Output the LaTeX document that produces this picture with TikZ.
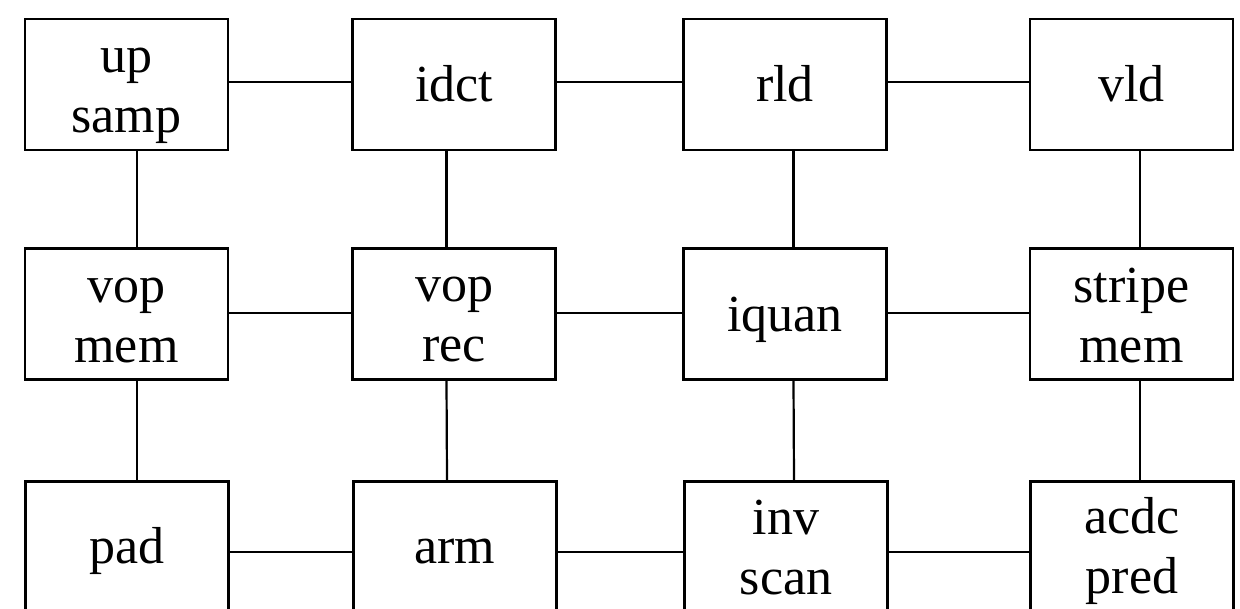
\documentclass[tikz,border=0pt]{standalone}
\usepackage{fontspec}
\setmainfont{Liberation Serif}
\newcommand{\boxtext}[2]{\raisebox{#1}{\smash{\begin{tabular}{@{}c@{}}#2\end{tabular}}}}
\begin{document}
\begin{tikzpicture}[x=1pt,y=-1pt,
  blk/.style={draw=black, line width=2.6pt, minimum width=203pt, minimum height=131pt,
    inner sep=0pt, align=center, font=\fontsize{52}{60}\selectfont},
  wire/.style={draw=black, line width=2.2pt}]
\useasboundingbox (0,0) rectangle (1240,608);
% row 1
\node[blk] (upsamp) at (126.5,84.5) {\boxtext{-25pt}{up\\samp}};
\node[blk] (idct)   at (454,84.5)   {\boxtext{-23pt}{idct}};
\node[blk] (rld)    at (785,84.5)   {\boxtext{-23pt}{rld}};
\node[blk] (vld)    at (1131.5,84.5) {\boxtext{-23pt}{vld}};
% row 2
\node[blk] (vopmem) at (126.5,314) {\boxtext{-25.5pt}{vop\\mem}};
\node[blk] (voprec) at (454,314)   {\boxtext{-24pt}{vop\\rec}};
\node[blk] (iquan)  at (785,314)   {\boxtext{-22.5pt}{iquan}};
\node[blk] (stripe) at (1131.5,314) {\boxtext{-24.5pt}{stripe\\mem}};
% row 3
\node[blk] (pad)    at (127,547) {\boxtext{-21.5pt}{pad}};
\node[blk] (arm)    at (455,547) {\boxtext{-21.5pt}{arm}};
\node[blk] (inv)    at (786,547) {\boxtext{-22.5pt}{inv\\scan}};
\node[blk] (acdc)   at (1132,547) {\boxtext{-21pt}{acdc\\pred}};
% horizontal connectors
\draw[wire] ([yshift=2.5pt]upsamp.east) -- ([yshift=2.5pt]idct.west);
\draw[wire] ([yshift=2.5pt]idct.east) -- ([yshift=2.5pt]rld.west);
\draw[wire] ([yshift=2.5pt]rld.east) -- ([yshift=2.5pt]vld.west);
\draw[wire] ([yshift=1pt]vopmem.east) -- ([yshift=1pt]voprec.west);
\draw[wire] ([yshift=1pt]voprec.east) -- ([yshift=1pt]iquan.west);
\draw[wire] ([yshift=1pt]iquan.east) -- ([yshift=1pt]stripe.west);
\draw[wire] ([yshift=-5pt]pad.east) -- ([yshift=-5pt]arm.west);
\draw[wire] ([yshift=-5pt]arm.east) -- ([yshift=-5pt]inv.west);
\draw[wire] ([yshift=-5pt]inv.east) -- ([yshift=-5pt]acdc.west);
% vertical connectors
\draw[wire] ([xshift=10.5pt]upsamp.south) -- ([xshift=10.5pt]vopmem.north);
\draw[wire] ([xshift=-7.5pt]idct.south) -- ([xshift=-7.5pt]voprec.north);
\draw[wire] ([xshift=8.5pt]rld.south) -- ([xshift=8.5pt]iquan.north);
\draw[wire] ([xshift=8.5pt]vld.south) -- ([xshift=8.5pt]stripe.north);
\draw[wire] ([xshift=10.5pt]vopmem.south) -- ([xshift=10pt]pad.north);
\draw[wire] ([xshift=-7.5pt]voprec.south) -- ([xshift=-8pt]arm.north);
\draw[wire] ([xshift=8.5pt]iquan.south) -- ([xshift=8pt]inv.north);
\draw[wire] ([xshift=8.5pt]stripe.south) -- ([xshift=8pt]acdc.north);
\end{tikzpicture}
\end{document}
